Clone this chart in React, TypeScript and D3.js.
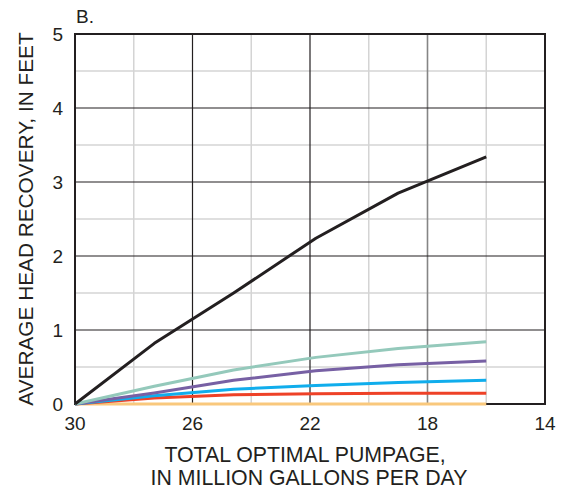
import * as d3 from "d3";
import { useRef, useEffect } from "react";

// pumpage (million gallons per day)
const pumpage = [30, 27.3, 24.6, 21.8, 19, 16];

const blackSeries = [0, 0.82, 1.5, 2.24, 2.85, 3.34];
const tealSeries = [0, 0.24, 0.46, 0.63, 0.75, 0.84];
const purpleSeries = [0, 0.15, 0.32, 0.45, 0.53, 0.58];
const blueSeries = [0, 0.11, 0.2, 0.25, 0.29, 0.32];
const redSeries = [0, 0.08, 0.125, 0.14, 0.145, 0.145];
const orangeSeries = [0, 0, 0, 0, 0, 0];

const xTicks = [30, 26, 22, 18, 14];
const yTicks = [0, 1, 2, 3, 4, 5];

const series = [
  { values: orangeSeries, color: "#f9c87c" },
  { values: redSeries, color: "#ee4127" },
  { values: blueSeries, color: "#10adec" },
  { values: purpleSeries, color: "#7760a4" },
  { values: tealSeries, color: "#94c9bb" },
  { values: blackSeries, color: "#231f20" }
];

export default function App() {
  const svgRef = useRef<SVGSVGElement>(null);

  const width = 566;
  const height = 490;
  const marginLeft = 75;
  const marginTop = 34;
  const innerWidth = 470;
  const innerHeight = 370;

  useEffect(() => {
    const svg = d3.select(svgRef.current);
    svg.selectAll("*").remove();

    const x = d3.scaleLinear().domain([30, 14]).range([0, innerWidth]);
    const y = d3.scaleLinear().domain([0, 5]).range([innerHeight, 0]);

    const font = "'Liberation Sans', Arial, sans-serif";
    const g = svg.append("g").attr("transform", `translate(${marginLeft},${marginTop})`);

    // minor grid
    g.selectAll(".mx")
      .data([28, 24, 20, 16])
      .join("line")
      .attr("x1", d => x(d))
      .attr("x2", d => x(d))
      .attr("y1", 0)
      .attr("y2", innerHeight)
      .attr("stroke", "#d4d4d4")
      .attr("stroke-width", 1.5);
    g.selectAll(".my")
      .data(d3.range(0.5, 5, 1))
      .join("line")
      .attr("x1", 0)
      .attr("x2", innerWidth)
      .attr("y1", d => y(d))
      .attr("y2", d => y(d))
      .attr("stroke", "#d4d4d4")
      .attr("stroke-width", 1.5);

    // major grid
    g.selectAll(".MX")
      .data([26, 22, 18])
      .join("line")
      .attr("x1", d => x(d))
      .attr("x2", d => x(d))
      .attr("y1", 0)
      .attr("y2", innerHeight)
      .attr("stroke", d => (d === 18 ? "#858585" : "#231f20"))
      .attr("stroke-width", d => (d === 18 ? 1.6 : 1.2));
    g.selectAll(".MY")
      .data([1, 2, 3, 4])
      .join("line")
      .attr("x1", 0)
      .attr("x2", innerWidth)
      .attr("y1", d => y(d))
      .attr("y2", d => y(d))
      .attr("stroke", "#231f20")
      .attr("stroke-width", 1.2);

    // frame
    g.append("rect")
      .attr("width", innerWidth)
      .attr("height", innerHeight)
      .attr("fill", "none")
      .attr("stroke", "#231f20")
      .attr("stroke-width", 2);

    // series
    const line = d3
      .line<number>()
      .x((d, i) => x(pumpage[i]))
      .y(d => y(d));

    g.selectAll(".series")
      .data(series)
      .join("path")
      .attr("fill", "none")
      .attr("stroke", d => d.color)
      .attr("stroke-width", 3)
      .attr("stroke-linejoin", "round")
      .attr("d", d => line(d.values));

    // tick labels
    g.selectAll(".xt")
      .data(xTicks)
      .join("text")
      .attr("x", d => x(d))
      .attr("y", innerHeight + 26)
      .attr("text-anchor", "middle")
      .attr("font-family", font)
      .attr("font-size", 19)
      .attr("fill", "#231f20")
      .text(d => d);
    g.selectAll(".yt")
      .data(yTicks)
      .join("text")
      .attr("x", -12)
      .attr("y", d => y(d) + 7)
      .attr("text-anchor", "end")
      .attr("font-family", font)
      .attr("font-size", 19)
      .attr("fill", "#231f20")
      .text(d => d);

    // titles
    svg.append("text")
      .attr("x", 76)
      .attr("y", 23)
      .attr("font-family", font)
      .attr("font-size", 19)
      .attr("fill", "#231f20")
      .text("B.");

    const xTitle = svg.append("text")
      .attr("text-anchor", "middle")
      .attr("font-family", font)
      .attr("font-size", 21.3)
      .attr("fill", "#231f20");
    xTitle.append("tspan").attr("x", 305).attr("y", 462).text("TOTAL OPTIMAL PUMPAGE,");
    xTitle.append("tspan").attr("x", 309).attr("y", 485).text("IN MILLION GALLONS PER DAY");

    svg.append("text")
      .attr("transform", `translate(33,219) rotate(-90)`)
      .attr("text-anchor", "middle")
      .attr("font-family", font)
      .attr("font-size", 20.8)
      .attr("fill", "#231f20")
      .text("AVERAGE HEAD RECOVERY, IN FEET");
  }, []);

  return (
    <svg
      ref={svgRef}
      width={width}
      height={height}
      style={{ position: "absolute", left: 0, top: 0, background: "#fff" }}
    />
  );
}
